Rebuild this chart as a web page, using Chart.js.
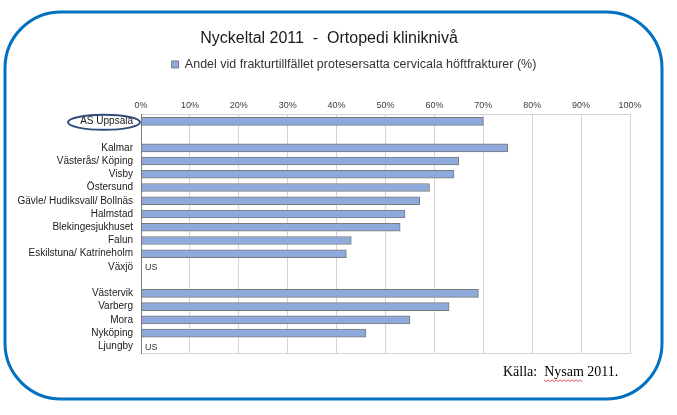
<!DOCTYPE html>
<html>
<head>
<meta charset="utf-8">
<title>Nyckeltal 2011 - Ortopedi kliniknivå</title>
<script src="https://cdn.jsdelivr.net/npm/chart.js@4.4.1/dist/chart.umd.min.js"></script>
<style>
  html, body { margin: 0; padding: 0; background: #ffffff; }
  #wrap { width: 677px; height: 415px; }
</style>
</head>
<body>
<div id="wrap"><canvas id="nyckeltalChart" width="677" height="415"></canvas></div>
<script>
// Clinics, top to bottom ('' = blank spacer row between groups)
const clinics = [
    'AS Uppsala', '',
    'Kalmar', 'Västerås/ Köping', 'Visby', 'Östersund', 'Gävle/ Hudiksvall/ Bollnäs',
    'Halmstad', 'Blekingesjukhuset', 'Falun', 'Eskilstuna/ Katrineholm', 'Växjö', '',
    'Västervik', 'Varberg', 'Mora', 'Nyköping', 'Ljungby'
];

// Andel protesersatta cervicala höftfrakturer (%), null = no bar
const protesAndel = [
    70, null,
    75, 65, 64, 59, 57, 54, 53, 43, 42, null, null,
    69, 63, 55, 46, null
];

// Clinics reported as "US" (uppgift saknas)
const usClinics = ['Växjö', 'Ljungby'];

const seriesLabel = 'Andel vid frakturtillfället protesersatta cervicala höftfrakturer (%)';
const chartTitle = 'Nyckeltal 2011  -  Ortopedi kliniknivå';
const sourceText = 'Källa:  ';
const sourceName = 'Nysam';
const sourceYear = ' 2011.';

const SANS = '"Liberation Sans", Arial, sans-serif';

/**
 * Extra drawing: US markers, ellipse round AS Uppsala, the rounded frame and the source note
 */
const decorations = {
    id: 'decorations',
    afterLayout(chart) {
        // title and legend sit right of the canvas centre in the original
        chart.titleBlock.left += 14;
        chart.titleBlock.right += 14;
        chart.legend.left += 39;
        chart.legend.right += 39;
    },
    afterDraw(chart) {
        const ctx = chart.ctx;
        const xs = chart.scales.x;
        const ys = chart.scales.y;
        ctx.save();

        // "US" markers
        ctx.font = '9px ' + SANS;
        ctx.fillStyle = '#333333';
        ctx.textAlign = 'left';
        ctx.textBaseline = 'middle';
        usClinics.forEach(name => {
            const i = clinics.indexOf(name);
            ctx.fillText('US', xs.getPixelForValue(0) + 4, ys.getPixelForValue(i) + 1);
        });

        // ellipse round the AS Uppsala label
        const ey = ys.getPixelForValue(0) + 1;
        ctx.strokeStyle = '#2f4b7c';
        ctx.lineWidth = 2;
        ctx.beginPath();
        ctx.ellipse(ys.right - 37, ey, 36, 7.5, 0, 0, Math.PI * 2);
        ctx.stroke();

        // rounded blue frame
        ctx.strokeStyle = '#0070c0';
        ctx.lineWidth = 3;
        ctx.beginPath();
        ctx.roundRect(5, 12, 657, 387, 56);
        ctx.stroke();

        // source note
        ctx.font = '14px "Liberation Serif", "Times New Roman", serif';
        ctx.fillStyle = '#000000';
        ctx.textBaseline = 'alphabetic';
        const sx = 503, sy = 376;
        ctx.fillText(sourceText + sourceName + sourceYear, sx, sy);
        const nx = sx + ctx.measureText(sourceText).width;
        const nw = ctx.measureText(sourceName).width;
        // red spell-check squiggle under the name
        ctx.strokeStyle = '#e03030';
        ctx.lineWidth = 0.8;
        ctx.beginPath();
        for (let px = 0; px <= nw; px += 2) {
            const py = sy + 4 + ((px / 2) % 2 === 0 ? 0 : 1.5);
            if (px === 0) ctx.moveTo(nx + px, py); else ctx.lineTo(nx + px, py);
        }
        ctx.stroke();

        ctx.restore();
    }
};

const ctx = document.getElementById('nyckeltalChart');

new Chart(ctx, {
    type: 'bar',
    data: {
        labels: clinics,
        datasets: [{
            label: seriesLabel,
            data: protesAndel,
            backgroundColor: '#8eaadd',
            borderColor: '#7a7a7a',
            borderWidth: 1,
            borderSkipped: false,
            barThickness: 8
        }]
    },
    options: {
        indexAxis: 'y',
        responsive: false,
        animation: false,
        devicePixelRatio: 1,
        layout: {
            padding: { top: 12, left: 0, right: 47, bottom: 62 }
        },
        plugins: {
            title: {
                display: true,
                text: chartTitle,
                color: '#1a1a1a',
                font: { family: SANS, size: 16, weight: 'normal' },
                padding: { top: 17, bottom: 0 }
            },
            legend: {
                display: true,
                labels: {
                    color: '#333333',
                    font: { family: SANS, size: 12.5 },
                    boxWidth: 7,
                    boxHeight: 7,
                    padding: 10
                }
            },
            tooltip: { enabled: false }
        },
        scales: {
            x: {
                position: 'top',
                min: 0,
                max: 100,
                grid: { color: '#d4d4d4', lineWidth: 1, drawTicks: false },
                border: { color: '#d4d4d4' },
                ticks: {
                    stepSize: 10,
                    padding: 4,
                    color: '#404040',
                    font: { family: SANS, size: 9 },
                    callback: value => value + '%'
                },
                afterFit: scale => { scale.height = 34; }
            },
            x2: {
                type: 'linear',
                position: 'bottom',
                min: 0,
                max: 100,
                grid: { display: false },
                border: { color: '#d4d4d4' },
                ticks: { display: false },
                afterFit: scale => { scale.height = 0; }
            },
            y: {
                grid: { display: false, drawTicks: false },
                border: { color: '#7f7f7f' },
                ticks: {
                    autoSkip: false,
                    padding: 8,
                    color: '#1a1a1a',
                    font: { family: SANS, size: 10 }
                },
                afterFit: scale => { scale.width = 141; }
            }
        }
    },
    plugins: [decorations]
});
</script>
</body>
</html>
